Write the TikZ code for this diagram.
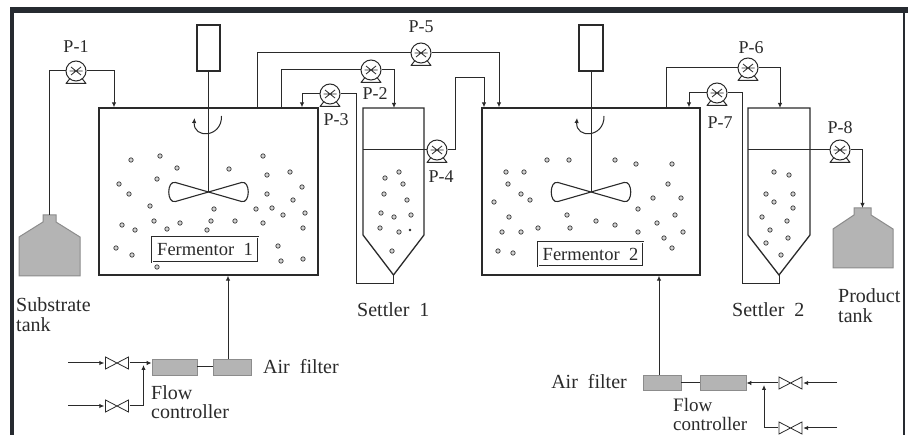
\documentclass[tikz,border=0pt]{standalone}
\usepackage{fontspec}
\setmainfont{Liberation Serif}
\usetikzlibrary{arrows.meta}
\definecolor{ink}{HTML}{2A2A2A}
\definecolor{framebar}{HTML}{262A30}
\definecolor{tankgray}{HTML}{B4B4B4}
\definecolor{tankedge}{HTML}{8C8C8C}
\begin{document}
\begin{tikzpicture}[x=1pt,y=-1pt,
  pipe/.style={draw=ink, line width=1pt},
  flow/.style={pipe, -{Latex[length=5pt,width=4.5pt]}},
  vessel/.style={draw=ink, line width=1.3pt},
  tankbody/.style={draw=tankedge, fill=tankgray, line width=1pt},
  filterbox/.style={draw=tankedge, fill=tankgray, line width=0.8pt, inner sep=0pt},
  motorbox/.style={draw=ink, line width=1.1pt, fill=white, inner sep=0pt},
  namebox/.style={draw=ink, double=white, double distance=0.9pt, line width=0.6pt,
    inner sep=0pt, font=\fontsize{18.5}{20}\selectfont, text=ink},
  lab/.style={inner sep=0pt, font=\fontsize{20}{22}\selectfont, text=ink},
  plabel/.style={inner sep=0pt, font=\fontsize{18}{19}\selectfont, text=ink},
  pumpbody/.style={circle, draw=ink, line width=1pt, minimum size=20pt, inner sep=0pt,
    fill=white,
    path picture={\draw[ink, line width=0.8pt] (path picture bounding box.center)
      +(-6.5,0) -- +(6.5,0) +(-5,-4) -- +(5,4) +(-5,4) -- +(5,-4);}},
  valvebody/.style={minimum width=25pt, minimum height=14pt, inner sep=0pt,
    path picture={\draw[ink, line width=0.8pt] (path picture bounding box.center)
      +(-11.5,-6) -- +(11.5,6) -- +(11.5,-6) -- +(-11.5,6) -- cycle;}},
  dot/.style={draw=gray!45!black, fill=gray!35, line width=0.7pt}
]
\useasboundingbox (0,0) rectangle (908,435);
\fill[white] (0,0) rectangle (908,435);

% window frame
\fill[framebar] (10,7) rectangle (908,13.5);
\fill[framebar] (10,7) rectangle (14,435);
\fill[framebar] (903,13) rectangle (904.5,435);

% ---------- fermentors ----------
\node[vessel, minimum width=219pt, minimum height=167pt, inner sep=0pt] (f1) at (208.5,191.5) {};
\node[vessel, minimum width=218pt, minimum height=167pt, inner sep=0pt] (f2) at (591,191.5) {};

% stirrer motors, shafts, impellers
\node[motorbox, minimum width=23pt, minimum height=46pt] (m1) at (208.5,48) {};
\node[motorbox, minimum width=24pt, minimum height=46pt] (m2) at (591,48) {};
\coordinate (imp1) at (208.5,192);
\coordinate (imp2) at (591,192);
\draw[pipe] (m1.south) -- (imp1);
\draw[pipe] (m2.south) -- (imp2);
\foreach \c in {imp1,imp2}{
  \draw[ink, line width=1.1pt, line join=round] (\c) -- ++(-33,-9.5) .. controls +(-9,-2.5) and +(-9,2.5) .. ++(0,19) -- cycle;
  \draw[ink, line width=1.1pt, line join=round] (\c) -- ++(33,-9.5) .. controls +(9,-2.5) and +(9,2.5) .. ++(0,19) -- cycle;
}
% rotation arrows
\draw[pipe, -{Latex[length=5pt,width=4.5pt]}] (221.5,116) .. controls (222,138) and (193,139) .. (194.5,118);
\draw[pipe, -{Latex[length=5pt,width=4.5pt]}] (604,116) .. controls (604.5,138) and (575.5,139) .. (577,118);

% name plates
\node[namebox, minimum width=106pt, minimum height=25pt] (n1) at (205,249.5) {Fermentor\ \ 1};
\node[namebox, minimum width=105pt, minimum height=24pt] (n2) at (590.5,254) {Fermentor\ \ 2};

% cells in the fermentors
\foreach \x/\y in {131/160,160/156,177/168,157/179,119/184,129/194,150/206,229/169,263/156,
  267/175,290/172,302/187,267/194,293/200,272/208,256/209,214/209,283/215,305/213,122/225,
  135/230,154/221,167/229,180/223,211/221,207/230,235/221,263/223,303/228,116/248,132/255,
  157/267,278/246,281/261,303/259}
  \draw[dot] (\x,\y) circle (2.2);
\foreach \x/\y in {547/160,569/160,615/160,636/164,672/164,506/172,524/172,508/184,521/194,
  530/200,494/202,668/184,653/198,681/198,638/209,509/217,567/215,596/221,615/225,657/223,
  675/215,502/232,521/232,538/228,570/228,638/232,664/238,683/232,672/248,498/251,513/253}
  \draw[dot] (\x,\y) circle (2.2);

% ---------- settlers ----------
\draw[vessel, line join=miter] (363,108) -- (424,108) -- (424,235) -- (393.5,275) -- (363,235) -- cycle;
\draw[vessel, line join=miter] (748,108) -- (810,108) -- (810,235) -- (779,275) -- (748,235) -- cycle;
\coordinate (s1in) at (394,108);
\coordinate (s2in) at (780,108);
\coordinate (s1tip) at (393.5,275);
\coordinate (s2tip) at (779,275);
\foreach \x/\y in {385/178,399/172,403/184,384/194,407/200,381/213,394/217,411/215,380/228,
  399/232,392/251}
  \draw[dot] (\x,\y) circle (2.2);
\fill[ink] (410,230) circle (1.4);
\foreach \x/\y in {774/172,789/175,766/194,793/194,774/202,793/208,762/217,787/221,770/230,
  788/238,766/243,781/255}
  \draw[dot] (\x,\y) circle (2.2);

% ---------- tanks ----------
\coordinate (sub) at (49.5,215);
\coordinate (prod) at (862.5,208);
\draw[tankbody] (19,276) -- (19,237) -- (43,222) -- (43,215) -- (56,215) -- (56,222)
  -- (80,237) -- (80,276) -- cycle;
\draw[tankbody] (833,268) -- (833,229) -- (854,215) -- (854,208) -- (871,208) -- (871,215)
  -- (893,229) -- (893,268) -- cycle;

% ---------- pumps ----------
\node[pumpbody] (p1) at (76,71) {};
\node[pumpbody] (p2) at (371,70) {};
\node[pumpbody] (p3) at (330,94) {};
\node[pumpbody] (p4) at (437,150) {};
\node[pumpbody] (p5) at (421,53) {};
\node[pumpbody] (p6) at (748,68) {};
\node[pumpbody] (p7) at (717,93) {};
\node[pumpbody] (p8) at (840,150) {};
\foreach \p in {p1,p2,p3,p4,p5,p6,p7,p8}
  \draw[pipe, line join=round] ([shift={(-6,7.5)}]\p.center) -- ([shift={(-10,12.5)}]\p.center)
    -- ([shift={(10,12.5)}]\p.center) -- ([shift={(6,7.5)}]\p.center);
\node[plabel] (p1l) at (76,47) {P-1};
\node[plabel] (p2l) at (375,94) {P-2};
\node[plabel] (p3l) at (336,120) {P-3};
\node[plabel] (p4l) at (441,177) {P-4};
\node[plabel] (p5l) at (421,27) {P-5};
\node[plabel] (p6l) at (751,48) {P-6};
\node[plabel] (p7l) at (720,123) {P-7};
\node[plabel] (p8l) at (840,128) {P-8};

% ---------- liquid lines ----------
% feed
\draw[pipe] (sub) |- (p1.west);
\draw[flow] (p1.east) -| (114,0 |- f1.north);
% fermentor 1 -> settler 1
\draw[pipe] (281,0 |- f1.north) |- (p2.west);
\draw[flow] (p2.east) -| (s1in);
% settler 1 underflow recycle
\draw[pipe] (s1tip) -- (393.5,284) -- (356,284) |- (p3.east);
\draw[flow] (p3.west) -| (302,0 |- f1.north);
% settler 1 overflow -> fermentor 2
\draw[pipe] (363,150) -- (p4.west);
\draw[flow] (p4.east) -| (455,78) -| (484,0 |- f2.north);
% fermentor 1 -> fermentor 2
\draw[pipe] (257,0 |- f1.north) |- (p5.west);
\draw[flow] (p5.east) -| (499,0 |- f2.north);
% fermentor 2 -> settler 2
\draw[pipe] (666,0 |- f2.north) |- (p6.west);
\draw[flow] (p6.east) -| (s2in);
% settler 2 underflow recycle
\draw[pipe] (s2tip) -- (779,284) -- (742,284) |- (p7.east);
\draw[flow] (p7.west) -| (689,0 |- f2.north);
% settler 2 overflow -> product
\draw[pipe] (748,150) -- (p8.west);
\draw[flow] (p8.east) -| (prod);

% ---------- air supply, fermentor 1 ----------
\node[filterbox, minimum width=45pt, minimum height=16pt] (fa1) at (174.5,367) {};
\node[filterbox, minimum width=38pt, minimum height=16pt] (fa2) at (232,367) {};
\draw[pipe] (fa1.east) -- (fa2.west);
\draw[flow] (228,0 |- fa2.north) -- (228,0 |- f1.south);
\node[valvebody] (va) at (117,363) {};
\node[valvebody] (vb) at (117,406) {};
\coordinate (ina) at (68,363);
\coordinate (inb) at (68,406);
\draw[flow] (ina) -- (va.west);
\draw[flow] (inb) -- (vb.west);
\draw[flow] (va.east) -- (fa1.west |- va.east);
\draw[flow] (vb.east) -| (143.5,365);

% ---------- air supply, fermentor 2 ----------
\node[filterbox, minimum width=38pt, minimum height=15pt] (fb1) at (662,382.5) {};
\node[filterbox, minimum width=46pt, minimum height=15pt] (fb2) at (723,382.5) {};
\draw[pipe] (fb1.east) -- (fb2.west);
\draw[flow] (659,0 |- fb1.north) -- (659,0 |- f2.south);
\node[valvebody] (vc) at (790.5,383) {};
\node[valvebody] (vd) at (790.5,428) {};
\coordinate (inc) at (837,383);
\coordinate (ind) at (837,428);
\draw[flow] (inc) -- (vc.east);
\draw[flow] (ind) -- (vd.east);
\draw[flow] (vc.west) -- (fb2.east |- vc.west);
\draw[flow] (vd.west) -| (764,385);

% ---------- labels ----------
\node[lab, anchor=base west] (t1) at (16,312) {Substrate};
\node[lab, anchor=base west] (t2) at (16,332) {tank};
\node[lab, anchor=base west] (t3) at (357,317) {Settler\ \ 1};
\node[lab, anchor=base west] (t4) at (732,317) {Settler\ \ 2};
\node[lab, anchor=base west] (t5) at (838,303) {Product};
\node[lab, anchor=base west] (t6) at (838,323) {tank};
\node[lab, anchor=base west] (t7) at (263,374) {Air\ \ filter};
\node[lab, anchor=base east] (t8) at (627,389) {Air\ \ filter};
\node[lab, anchor=base west] (t9) at (151,400) {Flow};
\node[lab, anchor=base west] (t10) at (151,419) {controller};
\node[lab, anchor=base west, font=\fontsize{19}{20}\selectfont] (t11) at (673,411.5) {Flow};
\node[lab, anchor=base west, font=\fontsize{19}{20}\selectfont] (t12) at (673,431) {controller};
\end{tikzpicture}
\end{document}
